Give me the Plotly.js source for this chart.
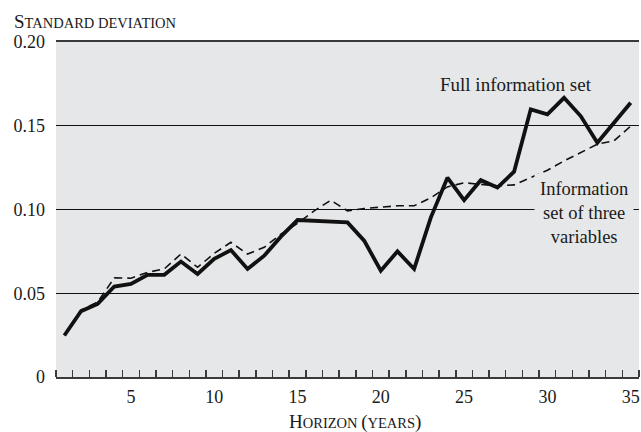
<!DOCTYPE html>
<html>
<head>
<meta charset="utf-8">
<script src="https://cdn.plot.ly/plotly-3.0.1.min.js"></script>
<style>html,body{margin:0;padding:0;background:#fff;}</style>
</head>
<body>
<div id="chart" style="width:641px;height:432px;"></div>
<script>
const horizon = [1,2,3,4,5,6,7,8,9,10,11,12,13,14,15,16,17,18,19,20,21,22,23,24,25,26,27,28,29,30,31,32,33,34,35];
const fullInfo = [0.0248,0.0393,0.0437,0.0540,0.0556,0.0610,0.0610,0.0689,0.0615,0.0705,0.0758,0.0645,0.0724,0.0838,0.0937,
  0.0933,0.0929,0.0923,0.0814,0.0635,0.0750,0.0645,0.0952,0.1190,0.1056,0.1175,0.1131,0.1226,0.1598,0.1568,
  0.1667,0.1558,0.1399,0.1518,0.1637];
const threeVars = [0.0250,0.0400,0.0447,0.0592,0.0590,0.0625,0.0645,0.0734,0.0655,0.0738,0.0804,0.0734,0.0774,0.0853,0.0917,
  0.0992,0.1055,0.0992,0.1006,0.1012,0.1022,0.1022,0.1070,0.1135,0.1160,0.1150,0.1141,0.1147,0.1190,0.1234,
  0.1290,0.1340,0.1390,0.1410,0.1498];
const xTickVals = [5,10,15,20,25,30,35];
const yTickVals = [0,0.05,0.10,0.15,0.20];
const yTickText = ['0','0.05','0.10','0.15','0.20'];
const labelFull = 'Full information set';
const labelThree = 'Information<br>set of three<br>variables';

const FONT = 'Liberation Serif, Times New Roman, serif';
const BG = '#e6e7e9';
const SC = 'font-size:14.5px';

const traces = [
  {x: horizon, y: threeVars, type: 'scatter', mode: 'lines',
   line: {color: '#111', width: 1.6, dash: '8px,5px'}, hoverinfo: 'skip'},
  {x: horizon, y: fullInfo, type: 'scatter', mode: 'lines',
   line: {color: '#111', width: 3.8}, hoverinfo: 'skip'}
];

const layout = {
  width: 641, height: 432,
  margin: {l: 56, r: 2, t: 42, b: 55},
  paper_bgcolor: '#ffffff',
  plot_bgcolor: BG,
  showlegend: false,
  font: {family: FONT, size: 18, color: '#1a1a1a'},
  xaxis: {
    range: [0.5, 35.5],
    tickmode: 'array', tickvals: xTickVals,
    ticks: '', showgrid: false, zeroline: false,
    showline: true, linecolor: '#3a3a3a', linewidth: 2, mirror: true,
    tickfont: {family: FONT, size: 18, color: '#1a1a1a'},
    ticklabelstandoff: 2,
    minor: {tick0: 0.5, dtick: 1, ticks: 'inside', ticklen: 7, tickwidth: 1.5, tickcolor: '#3a3a3a', showgrid: false}
  },
  yaxis: {
    range: [0, 0.2],
    tickmode: 'array', tickvals: yTickVals, ticktext: yTickText,
    ticks: '', showgrid: true, gridcolor: '#111', gridwidth: 1.4,
    zeroline: false, showline: false,
    ticklabelstandoff: 10,
    tickfont: {family: FONT, size: 18, color: '#1a1a1a'}
  },
  annotations: [
    {xref: 'paper', yref: 'paper', x: 0, xshift: -44, y: 1.0, yshift: 21, xanchor: 'left', yanchor: 'middle',
     text: 'S<span style="' + SC + '">TANDARD DEVIATION</span>', showarrow: false,
     font: {family: FONT, size: 19, color: '#1a1a1a'}},
    {xref: 'paper', yref: 'paper', x: 0.5, xshift: 7, y: 0, yshift: -45, xanchor: 'center', yanchor: 'middle',
     text: 'H<span style="' + SC + '">ORIZON </span>(<span style="' + SC + '">YEARS</span>)', showarrow: false,
     font: {family: FONT, size: 19, color: '#1a1a1a'}},
    {xref: 'x', yref: 'y', x: 28.1, y: 0.1746, text: labelFull, showarrow: false,
     xanchor: 'center', yanchor: 'middle', font: {family: FONT, size: 19, color: '#1a1a1a'}},
    {xref: 'x', yref: 'y', x: 32.2, y: 0.0982, text: labelThree, showarrow: false,
     xanchor: 'center', yanchor: 'middle', bgcolor: BG, borderpad: 5, align: 'center',
     font: {family: FONT, size: 18.5, color: '#1a1a1a'}}
  ]
};

Plotly.newPlot('chart', traces, layout, {displayModeBar: false, staticPlot: true});
</script>
</body>
</html>
